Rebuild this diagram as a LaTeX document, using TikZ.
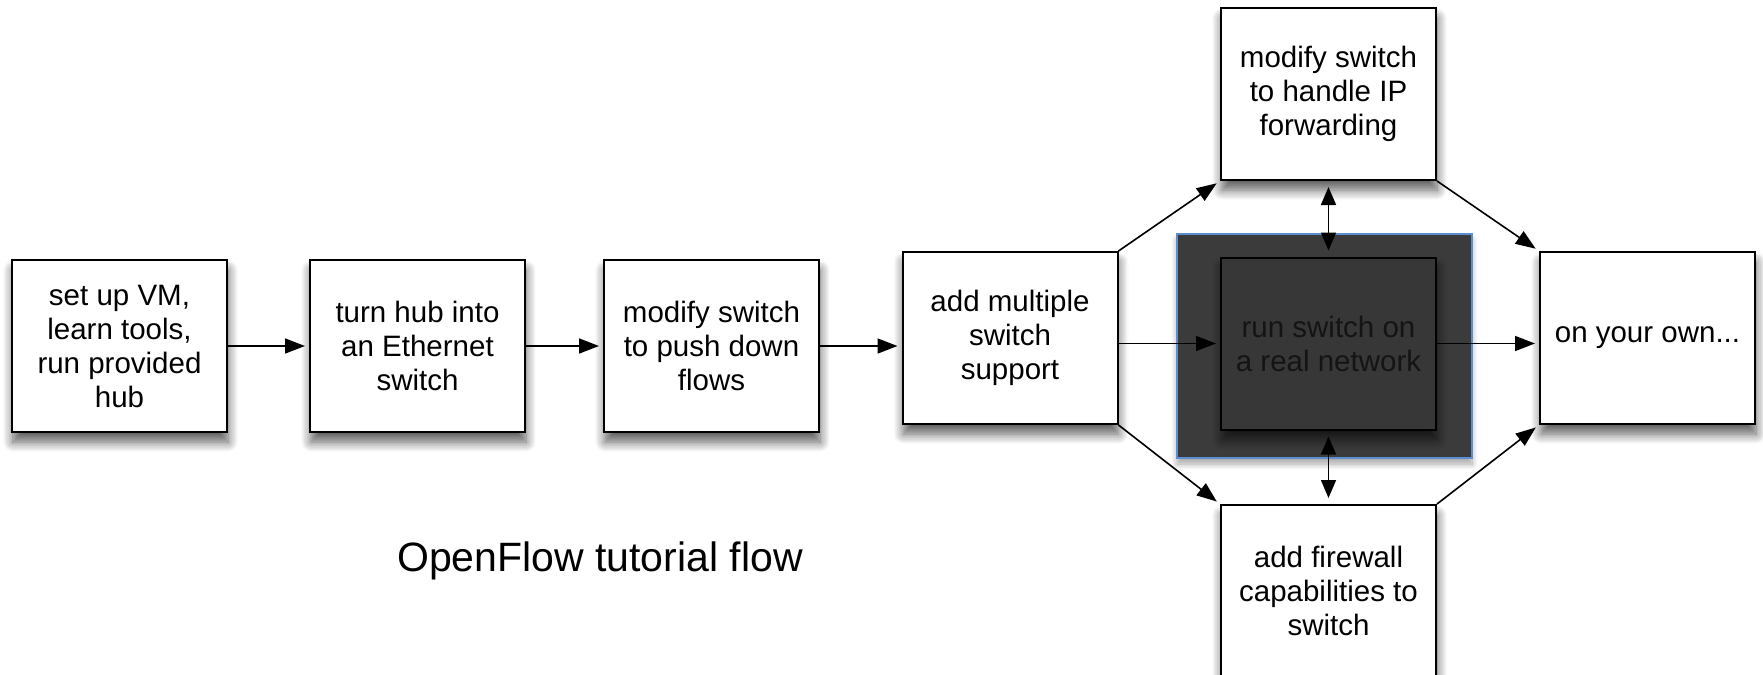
\documentclass[tikz,border=0pt]{standalone}
\usepackage{fontspec}
\setmainfont{Liberation Sans}
\usetikzlibrary{arrows.meta,shadows.blur}
\definecolor{darkfill}{HTML}{3B3B3B}
\definecolor{innerfill}{HTML}{373737}
\definecolor{darktext}{HTML}{141414}
\definecolor{bluebord}{HTML}{5B8FD0}
\tikzset{
  stepbox/.style={draw=black, line width=1pt, fill=white, minimum width=107.5pt, minimum height=86pt,
    align=center, inner sep=0pt, font=\fontsize{14.75pt}{17pt}\selectfont,
    blur shadow={shadow xshift=0.5pt, shadow yshift=-5pt, shadow blur radius=5pt, shadow blur steps=10, shadow opacity=65}},
  innerbox/.style={stepbox, fill=innerfill, text=darktext},
  darkbox/.style={draw=bluebord, line width=0.6pt, fill=darkfill, minimum width=147.5pt, minimum height=112pt, inner sep=0pt,
    blur shadow={shadow xshift=0pt, shadow yshift=-3pt, shadow blur radius=3pt, shadow blur steps=8, shadow opacity=35}},
  conn/.style={draw=black, line width=0.8pt, -{Triangle[length=10pt,width=7.5pt]}, shorten >=2pt},
  dconn/.style={draw=black, line width=0.8pt, {Triangle[length=9pt,width=7.5pt]}-{Triangle[length=9pt,width=7.5pt]}, shorten >=3pt, shorten <=3pt},
}
\begin{document}
\begin{tikzpicture}[x=0.5pt,y=-0.5pt]
\useasboundingbox (0,0) rectangle (1763,675);
\clip (0,0) rectangle (1763,675);
\node[darkbox] (dark) at (1324.5,346) {};
\node[stepbox] (b1) at (119.5,346) {set up VM,\\learn tools,\\run provided\\hub};
\node[stepbox] (b2) at (417.5,346) {turn hub into\\an Ethernet\\switch};
\node[stepbox] (b3) at (711.5,346) {modify switch\\to push down\\flows};
\node[stepbox] (b4) at (1010,338) {add multiple\\switch\\support};
\node[innerbox] (inner) at (1328.5,343.5) {run switch on\\a real network};
\node[stepbox] (top) at (1328.5,94) {modify switch\\to handle IP\\forwarding};
\node[stepbox] (bot) at (1328.5,591) {add firewall\\capabilities to\\switch};
\node[stepbox] (own) at (1647.5,338) {on your own...};
\node[font=\fontsize{20.5pt}{24pt}\selectfont, inner sep=0pt] (title) at (600,561) {OpenFlow tutorial flow};
\draw[conn] (b1.east) -- (b2.west);
\draw[conn] (b2.east) -- (b3.west);
\draw[conn] (b3.east) -- (b3.east -| b4.west);
\draw[conn] (b4.east |- inner.west) -- (inner.west);
\draw[conn] (inner.east) -- (inner.east -| own.west);
\draw[conn] (b4.north east) -- (top.south west);
\draw[conn] (top.south east) -- (own.north west);
\draw[conn] (b4.south east) -- (bot.north west);
\draw[conn] (bot.north east) -- (own.south west);
\draw[dconn] (top.south) -- (inner.north);
\draw[dconn] (inner.south) -- (bot.north);
\end{tikzpicture}
\end{document}
